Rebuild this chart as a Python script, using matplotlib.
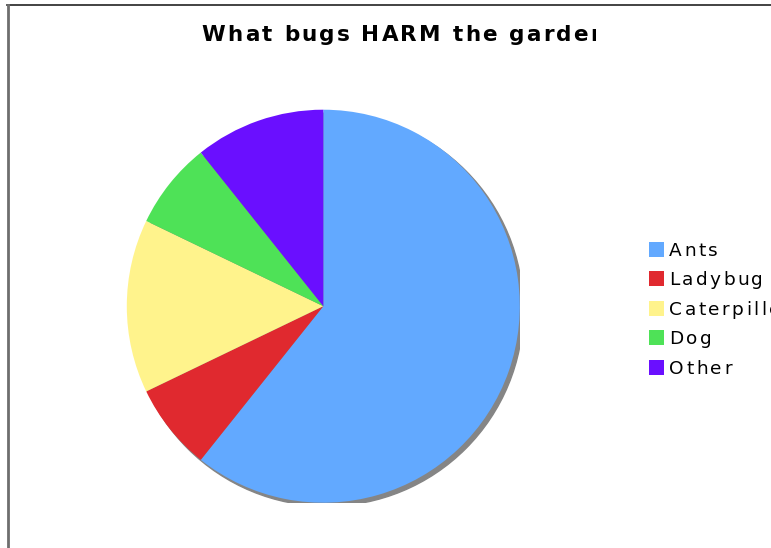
import matplotlib
matplotlib.use('Agg')
import matplotlib.pyplot as plt
import matplotlib.transforms as mtransforms
from matplotlib.patches import Circle, Rectangle
from matplotlib.lines import Line2D

# data
labels = ['Ants', 'Ladybug', 'Caterpiller', 'Dog', 'Other']
counts = [17, 2, 4, 2, 3]
colors = ['#62A9FF', '#E0292F', '#FFF38C', '#4EE257', '#6A0FFF']
title = 'What bugs HARM the garden'

W, H = 771, 548
fig = plt.figure(figsize=(W / 100, H / 100), dpi=100)
px = mtransforms.IdentityTransform()
renderer = fig.canvas.get_renderer()

# frame (cut off on right and bottom)
fig.add_artist(Line2D([7, W], [H - 5, H - 5], transform=px, color='#222222', lw=1.2))
fig.add_artist(Line2D([7.5, 7.5], [0, H - 5], transform=px, color='#6e6e6e', lw=2))

# pie
cx, cy, r = 323.3, H - 306.2, 196.5
ax = fig.add_axes([(cx - r) / W, (cy - r) / H, 2 * r / W, 2 * r / H])
ax.pie(counts, colors=colors, startangle=90, counterclock=False, radius=1,
       wedgeprops=dict(linewidth=0), frame=False)
shadow = Circle((0, 0), 1, color='#858585', zorder=0,
                transform=ax.transData + mtransforms.Affine2D().translate(3.5, -3.5))
ax.add_patch(shadow)
ax.set_xlim(-1, 1)
ax.set_ylim(-1, 1)
ax.set_aspect('auto')
ax.axis('off')


def text_w(s, size, weight):
    t = fig.text(0, 0, s + '|', fontsize=size, weight=weight)
    w = t.get_window_extent(renderer).width
    t.remove()
    t = fig.text(0, 0, '|', fontsize=size, weight=weight)
    w -= t.get_window_extent(renderer).width
    t.remove()
    return w


def spaced(s, x, y, size, track, weight='normal', clip=None):
    for i, ch in enumerate(s):
        off = text_w(s[:i], size, weight) if i else 0
        a = fig.text(x + off + i * track, y, ch, transform=px, fontsize=size,
                     weight=weight, va='baseline', ha='left', color='black')
        if clip is not None:
            a.set_clip_box(clip)


# title, clipped like the original
tsize = 15.5
part = title[:-1]
nat = fig.text(0, 0, part, fontsize=tsize, weight='bold')
w_nat = nat.get_window_extent(renderer).width
nat.remove()
track = (588 - 201.7 - w_nat) / (len(part) - 1)
clip = mtransforms.Bbox.from_extents(0, 0, 596, H)
spaced(title, 201.7, H - 41, tsize, track, weight='bold', clip=clip)

# legend
for i, (lab, col) in enumerate(zip(labels, colors)):
    yc = H - (249 + i * 29.6)
    fig.add_artist(Rectangle((649, yc - 7.5), 15, 15, transform=px,
                             facecolor=col, edgecolor='none'))
    spaced(lab, 669.3, yc - 6.7, 13.3, 2.4)

fig.savefig('out.png', dpi=100)
